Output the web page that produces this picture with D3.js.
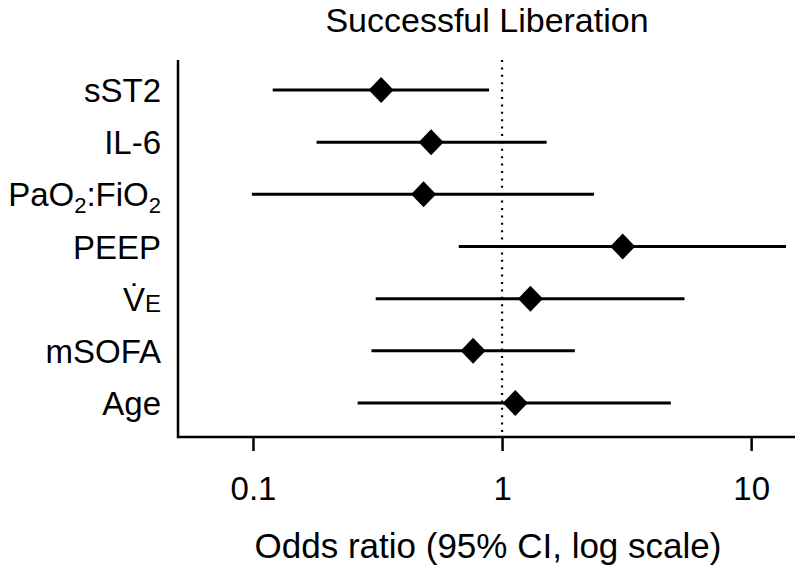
<!DOCTYPE html>
<html><head><meta charset="utf-8">
<script src="https://cdn.jsdelivr.net/npm/d3@7"></script>
<style>body{margin:0;background:#fff}text{font-family:"Liberation Sans",Arial,Helvetica,sans-serif;fill:#000}</style>
</head><body>
<svg id="c" width="795" height="566"></svg>
<script>
const categories = ["sST2","IL-6","PaO2:FiO2","PEEP","VE","mSOFA","Age"];
const oddsRatio = [0.327, 0.519, 0.484, 3.05, 1.30, 0.765, 1.13];
const ciLow  = [0.120, 0.180, 0.099, 0.67, 0.311, 0.299, 0.263];
const ciHigh = [0.887, 1.51, 2.34, 13.8, 5.40, 1.96, 4.76];
const xTicks = [0.1, 1, 10];
const xTickLabels = ["0.1","1","10"];

const svg = d3.select("#c");
const x = d3.scaleLog().domain([0.05, 15]).range([178, 795]);
const y = d3.scalePoint().domain(categories).range([90, 403]);
const axisY0 = 60, axisY1 = 437;

// title
svg.append("text").attr("x", 487).attr("y", 31.5).attr("text-anchor","middle")
  .style("font-size","34px").text("Successful Liberation");

// axes lines
svg.append("path").attr("d", `M${x(0.05)},${axisY0}V${axisY1}H${x(15)}`)
  .attr("fill","none").attr("stroke","#000").attr("stroke-width",2.5);

// x axis via d3
const xAxis = d3.axisBottom(x).tickValues(xTicks).tickFormat((d,i)=>xTickLabels[i]).tickSize(14).tickPadding(26);
const gx = svg.append("g").attr("transform",`translate(0,${axisY1})`).call(xAxis);
gx.select(".domain").remove();
gx.selectAll(".tick line").attr("stroke","#000").attr("stroke-width",2.5);
gx.selectAll(".tick text").style("font-size","33px").attr("font-family",null);

// x label
svg.append("text").attr("x", 488).attr("y", 558).attr("text-anchor","middle")
  .style("font-size","35px").text("Odds ratio (95% CI, log scale)");

// reference line at 1
svg.append("line").attr("x1",x(1)).attr("x2",x(1)).attr("y1",axisY0).attr("y2",axisY1)
  .attr("stroke","#000").attr("stroke-width",2.2).attr("stroke-dasharray","2 5.4");

// y labels
const yl = svg.append("g");
categories.forEach((c,i)=>{
  const t = yl.append("text").attr("x",161).attr("y",y(c)+12).attr("text-anchor","end").style("font-size","33px");
  if (c === "PaO2:FiO2") {
    t.append("tspan").text("PaO");
    t.append("tspan").attr("dy",7).style("font-size","22px").text("2");
    t.append("tspan").attr("dy",-7).text(":FiO");
    t.append("tspan").attr("dy",7).style("font-size","22px").text("2");
  } else if (c === "VE") {
    t.append("tspan").text("V\u0307");
    t.append("tspan").attr("dy",1).style("font-size","24px").text("E");
  } else {
    t.text(c);
  }
});

// CI lines and diamonds
const g = svg.append("g");
categories.forEach((c,i)=>{
  g.append("line").attr("x1",x(ciLow[i])).attr("x2",x(ciHigh[i]))
    .attr("y1",y(c)).attr("y2",y(c)).attr("stroke","#000").attr("stroke-width",3);
  const cx = x(oddsRatio[i]), cy = y(c), hw = 12.5, hh = 13;
  g.append("path").attr("d",`M${cx},${cy-hh}L${cx+hw},${cy}L${cx},${cy+hh}L${cx-hw},${cy}Z`).attr("fill","#000");
});
</script>
</body></html>
